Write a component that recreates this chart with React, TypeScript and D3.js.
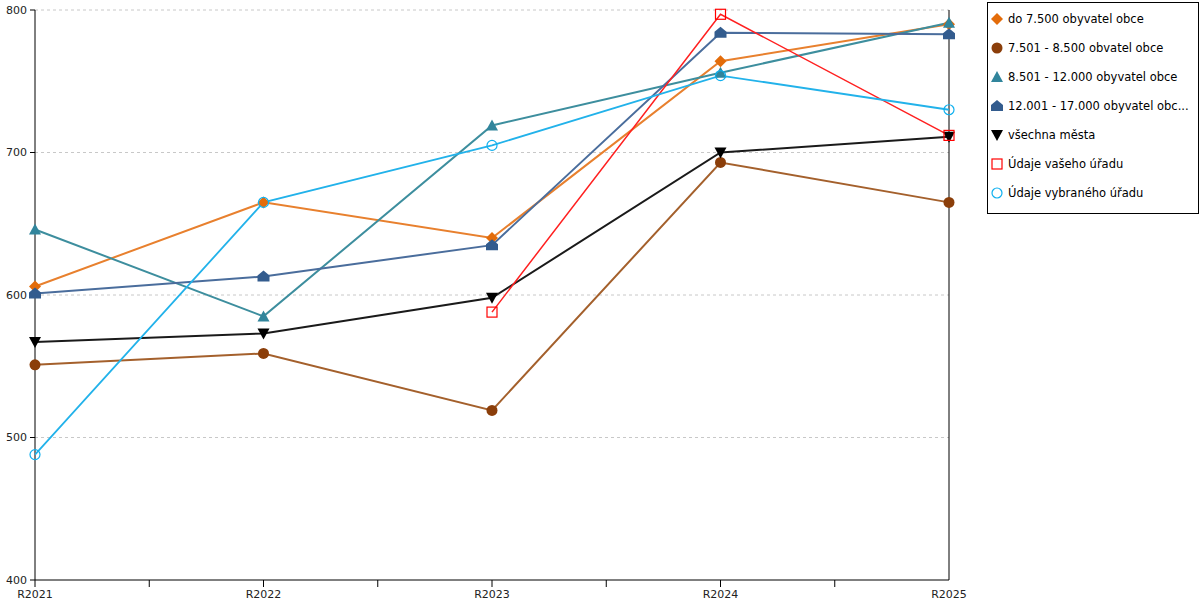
import React from 'react'
import * as d3 from 'd3'

const years = ['R2021', 'R2022', 'R2023', 'R2024', 'R2025']
const yTicks = [400, 500, 600, 700, 800]

const seriesNames = [
    'do 7.500 obyvatel obce',
    '7.501 - 8.500 obvatel obce',
    '8.501 - 12.000 obyvatel obce',
    '12.001 - 17.000 obyvatel obc...',
    'všechna města',
    'Údaje vašeho úřadu',
    'Údaje vybraného úřadu',
]

const upTo7500 = [606, 665, 640, 764, 790]
const from7501 = [551, 559, 519, 693, 665]
const from8501 = [646, 585, 719, 756, 791]
const from12001 = [601, 613, 635, 784, 783]
const allCities = [567, 573, 598, 700, 711]
const yourOffice = [null, null, 588, 797, 712]
const selectedOffice = [488, 665, 705, 754, 730]

const seriesValues: (number | null)[][] = [upTo7500, from7501, from8501, from12001, allCities, yourOffice, selectedOffice]

const lineColors = ['#e8802e', '#a4602c', '#3d8e9e', '#4a6d9c', '#1a1a1a', '#ff2020', '#22b2ea']
const markColors = ['#e36c0a', '#8b3e0a', '#31859c', '#335c8e', '#000000', '#ff0000', '#0fb0ef']
const lineWidths = [2, 2, 2, 2, 2, 1.5, 1.8]
const markers = ['diamond', 'circle', 'triangle', 'house', 'down', 'square', 'ring']

const W = 1200
const H = 600
const margin = { left: 35, right: 251, top: 10, bottom: 20 }
const font = '"DejaVu Sans", Verdana, sans-serif'

function Marker({ kind, x, y, color }: { kind: string; x: number; y: number; color: string }) {
    switch (kind) {
        case 'diamond':
            return <path d={`M${x},${y - 6}L${x + 6},${y}L${x},${y + 6}L${x - 6},${y}Z`} fill={color} />
        case 'circle':
            return <circle cx={x} cy={y} r={5.5} fill={color} />
        case 'triangle':
            return <path d={`M${x},${y - 6}L${x + 6},${y + 5}L${x - 6},${y + 5}Z`} fill={color} />
        case 'house':
            return <path d={`M${x},${y - 6}L${x + 6},${y - 1}L${x + 6},${y + 5}L${x - 6},${y + 5}L${x - 6},${y - 1}Z`} fill={color} />
        case 'down':
            return <path d={`M${x - 6},${y - 5}L${x + 6},${y - 5}L${x},${y + 6}Z`} fill={color} />
        case 'square':
            return <rect x={x - 5} y={y - 5} width={10} height={10} fill="none" stroke={color} strokeWidth={1.2} />
        default:
            return <circle cx={x} cy={y} r={5} fill="none" stroke={color} strokeWidth={1.2} />
    }
}

export default function App() {
    const x = d3.scalePoint<string>().domain(years).range([margin.left, W - margin.right])
    const y = d3.scaleLinear().domain([400, 800]).range([H - margin.bottom, margin.top])
    const step = x.step()

    const line = d3.line<number | null>()
        .defined(d => d !== null)
        .x((_, i) => x(years[i]) as number)
        .y(d => y(d as number))

    const minorTicks = d3.range(0, years.length - 1, 0.5).map(i => margin.left + i * step)

    return (
        <div style={{ position: 'absolute', left: 0, top: 0 }}>
            <svg width={W} height={H} style={{ display: 'block', fontFamily: font }}>
                {/* grid */}
                {yTicks.filter(t => t > 400).map(t => (
                    <line key={t} x1={margin.left} x2={W - margin.right} y1={y(t)} y2={y(t)}
                        stroke="#c8c8c8" strokeDasharray="3,3" />
                ))}

                {/* axes */}
                <line x1={margin.left} x2={margin.left} y1={margin.top} y2={H - margin.bottom} stroke="#000" />
                <line x1={W - margin.right} x2={W - margin.right} y1={margin.top} y2={H - margin.bottom} stroke="#000" />
                <line x1={margin.left} x2={W - margin.right} y1={H - margin.bottom} y2={H - margin.bottom} stroke="#000" />
                {yTicks.map(t => (
                    <g key={t}>
                        <line x1={margin.left - 5} x2={margin.left} y1={y(t)} y2={y(t)} stroke="#000" />
                        <text x={margin.left - 8} y={y(t)} dy="0.35em" textAnchor="end" fontSize={11} fill="#222">{t}</text>
                    </g>
                ))}
                {minorTicks.map(t => (
                    <line key={t} x1={t} x2={t} y1={H - margin.bottom} y2={H - margin.bottom + 7} stroke="#000" />
                ))}
                {years.map(yr => (
                    <text key={yr} x={x(yr)} y={H - 2} textAnchor="middle" fontSize={11} fill="#222">{yr}</text>
                ))}

                {/* lines */}
                {seriesValues.map((vals, si) => (
                    <path key={si} d={line(vals) || ''} fill="none" stroke={lineColors[si]} strokeWidth={lineWidths[si]} />
                ))}

                {/* markers */}
                {seriesValues.map((vals, si) => (
                    <g key={si}>
                        {vals.map((v, i) => v === null ? null : (
                            <Marker key={i} kind={markers[si]} x={x(years[i]) as number} y={y(v)} color={markColors[si]} />
                        ))}
                    </g>
                ))}

                {/* legend */}
                <rect x={987.5} y={2.5} width={211} height={211} fill="#fff" stroke="#000" />
                {seriesNames.map((name, i) => (
                    <g key={name}>
                        <Marker kind={markers[i]} x={997} y={19 + i * 29} color={markColors[i]} />
                        <text x={1008} y={19 + i * 29} dy="0.35em" fontSize={11.5} fill="#000">{name}</text>
                    </g>
                ))}
            </svg>
        </div>
    )
}
